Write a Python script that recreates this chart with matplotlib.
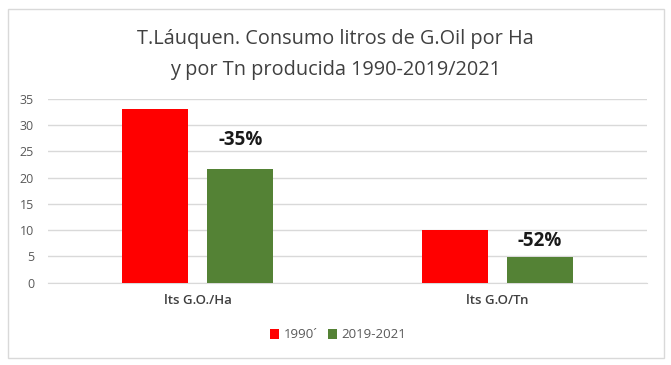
import matplotlib
matplotlib.use('Agg')
import matplotlib.pyplot as plt
import numpy as np
from matplotlib.patches import Rectangle

categories = ["lts G.O./Ha", "lts G.O/Tn"]
series_names = ["1990´", "2019-2021"]
vals_1990 = [33.1, 10.0]
vals_2021 = [21.6, 4.8]
pct_labels = ["-35%", "-52%"]
colors = ["#ff0000", "#548235"]

plt.rcParams['font.family'] = ['Open Sans', 'DejaVu Sans']

fig = plt.figure(figsize=(6.71, 3.65), dpi=100)
ax = fig.add_axes([48 / 671, 1 - 282.7 / 365, 599 / 671, (282.7 - 98.7) / 365])

x = np.arange(len(categories))
w = 0.22
off = 0.142
ax.bar(x - off, vals_1990, w, color=colors[0], label=series_names[0], zorder=3)
ax.bar(x + off, vals_2021, w, color=colors[1], label=series_names[1], zorder=3)

# percentage change labels above the green bars
ax.text(x[0] + off, 27.2, pct_labels[0], ha='center', va='center',
        fontsize=13.5, fontweight='bold', color='#1a1a1a')
ax.text(x[1] + off, 7.9, pct_labels[1], ha='center', va='center',
        fontsize=13.5, fontweight='bold', color='#1a1a1a')

ax.set_xlim(-0.5, 1.5)
ax.set_ylim(0, 35)
ax.set_yticks(range(0, 36, 5))
ax.set_xticks(x)
ax.set_xticklabels(categories, fontsize=9.5, color='#404040', fontweight='semibold')
ax.tick_params(axis='y', labelsize=9, labelcolor='#595959', length=0, pad=10)
ax.tick_params(axis='x', length=0, pad=8)
ax.yaxis.grid(True, color='#d9d9d9', linewidth=1, zorder=0)
for s in ['top', 'right', 'left']:
    ax.spines[s].set_visible(False)
ax.spines['bottom'].set_color('#d9d9d9')

fig.text(0.5, 1 - 39 / 365, "T.Láuquen. Consumo litros de G.Oil por Ha",
         ha='center', va='center', fontsize=14.3, color='#404040')
fig.text(0.5, 1 - 70 / 365, "y por Tn producida 1990-2019/2021",
         ha='center', va='center', fontsize=14.3, color='#404040')

leg = fig.legend(loc='center', bbox_to_anchor=(338 / 671, 1 - 335 / 365), ncol=2,
                 frameon=False, fontsize=9.5, handlelength=0.7, handleheight=0.7,
                 handletextpad=0.3, columnspacing=0.8)
for t in leg.get_texts():
    t.set_color('#595959')

fig.patches.append(Rectangle((8 / 671, 1 - 358 / 365), 656 / 671, 349 / 365,
                             transform=fig.transFigure, fill=False,
                             edgecolor='#d9d9d9', linewidth=1))

plt.savefig('out.png', dpi=100)
